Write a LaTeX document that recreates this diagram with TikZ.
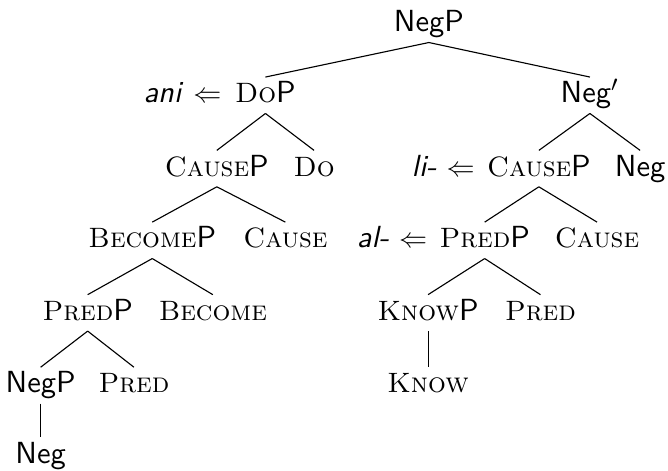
\documentclass[tikz,border=0pt]{standalone}
\usepackage{tikz}
\usetikzlibrary{positioning}

\newcommand{\scat}[1]{{\fontsize{10}{12}\selectfont\rmfamily\scshape #1}}
\newcommand{\movedto}{{\fontsize{10}{12}\selectfont$\Leftarrow$}}

\begin{document}
\begin{tikzpicture}[
    font=\fontsize{10.9}{13}\selectfont\sffamily,
    cat/.style={
        inner sep=0pt,
        anchor=base,
        text height=9pt,
        text depth=3.6pt
    },
    mov/.style={
        inner sep=0pt,
        anchor=base east
    },
    br/.style={thin}
]
\useasboundingbox (0,0) rectangle (8.38,-5.90);

% top
\node[cat] (negp) at (5.38,-0.40) {NegP};

% first row
\node[cat] (dop) at (3.33,-1.29) {\scat{Do}P};
\node[mov] (ani) at ([xshift=-4.5pt]dop.base west) {\textit{ani} \movedto};
\node[cat] (negbar) at (7.40,-1.29) {Neg$'$};

% second row
\node[cat] (causep) at (2.72,-2.21) {\scat{Cause}P};
\node[cat] (do) at (3.94,-2.21) {\scat{Do}};
\node[cat] (causepr) at (6.76,-2.21) {\scat{Cause}P};
\node[mov] (li) at ([xshift=-4pt]causepr.base west) {\textit{li-} \movedto};
\node[cat] (negr) at (8.03,-2.21) {Neg};

% third row
\node[cat] (becomep) at (1.91,-3.11) {\scat{Become}P};
\node[cat] (cause) at (3.58,-3.11) {\scat{Cause}};
\node[cat] (predpr) at (6.08,-3.11) {\scat{Pred}P};
\node[mov] (al) at ([xshift=-4pt]predpr.base west) {\textit{al-} \movedto};
\node[cat] (causer) at (7.49,-3.11) {\scat{Cause}};

% fourth row
\node[cat] (predp) at (1.10,-4.02) {\scat{Pred}P};
\node[cat] (become) at (2.67,-4.02) {\scat{Become}};
\node[cat] (knowp) at (5.37,-4.02) {\scat{Know}P};
\node[cat] (predr) at (6.78,-4.02) {\scat{Pred}};

% fifth row
\node[cat] (negpl) at (0.51,-4.93) {NegP};
\node[cat] (pred) at (1.68,-4.93) {\scat{Pred}};
\node[cat] (know) at (5.37,-4.93) {\scat{Know}};

% last row
\node[cat] (neg) at (0.51,-5.81) {Neg};

\draw[br] (negp.south) -- (dop.north);
\draw[br] (negp.south) -- (negbar.north);
\draw[br] (dop.south) -- (causep.north);
\draw[br] (dop.south) -- (do.north);
\draw[br] (negbar.south) -- (causepr.north);
\draw[br] (negbar.south) -- (negr.north);
\draw[br] (causep.south) -- (becomep.north);
\draw[br] (causep.south) -- (cause.north);
\draw[br] (causepr.south) -- (predpr.north);
\draw[br] (causepr.south) -- (causer.north);
\draw[br] (becomep.south) -- (predp.north);
\draw[br] (becomep.south) -- (become.north);
\draw[br] (predpr.south) -- (knowp.north);
\draw[br] (predpr.south) -- (predr.north);
\draw[br] (predp.south) -- (negpl.north);
\draw[br] (predp.south) -- (pred.north);
\draw[br] (knowp.south) -- (know.north);
\draw[br] (negpl.south) -- (neg.north);

\end{tikzpicture}
\end{document}
